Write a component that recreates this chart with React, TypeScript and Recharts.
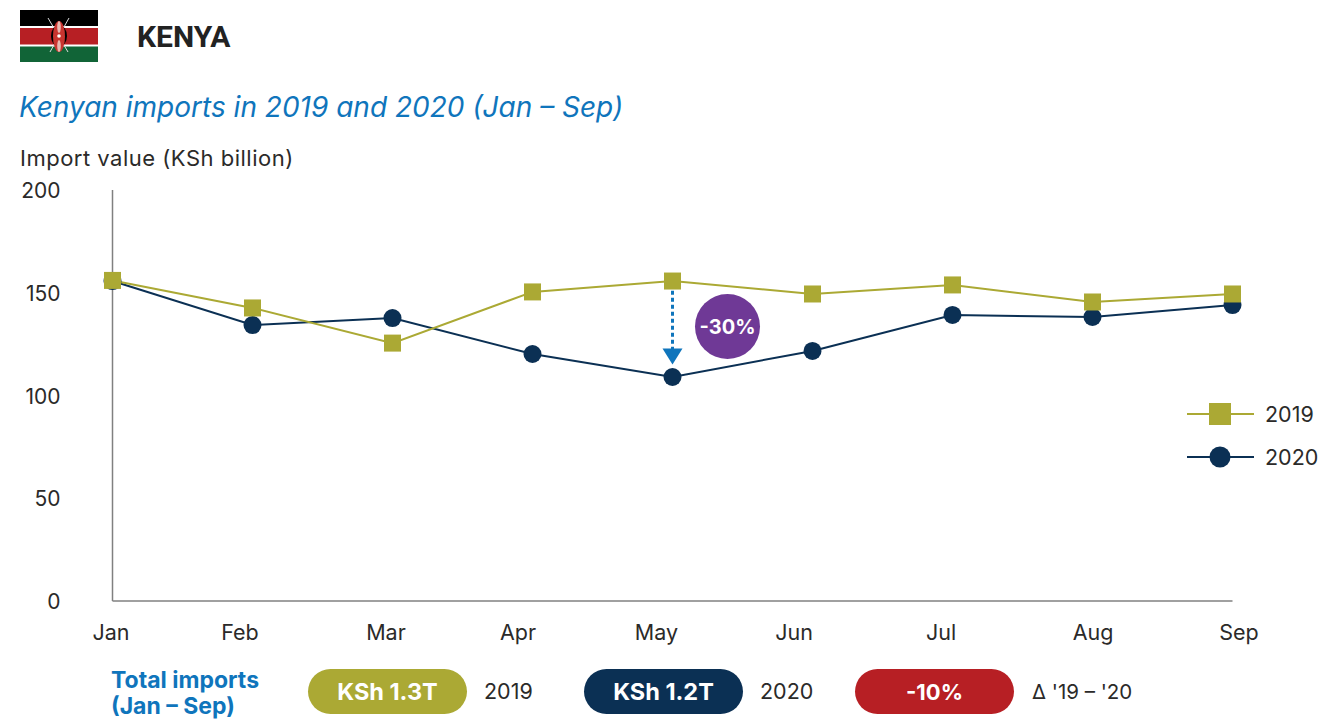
import { Legend, Line, LineChart, ReferenceDot, ReferenceLine, XAxis, YAxis } from "recharts";

const months = ["Jan", "Feb", "Mar", "Apr", "May", "Jun", "Jul", "Aug", "Sep"];
const imports2019 = [156, 142.6, 125.5, 150.4, 155.7, 149.4, 153.8, 145.5, 149.4];
const imports2020 = [155.7, 134.3, 137.7, 120.2, 109, 121.7, 139.2, 138.2, 144];
const yTicks = [0, 50, 100, 150, 200];

const OLIVE = "#ABA934";
const NAVY = "#0B3054";
const BLUE = "#0F75BC";
const PURPLE = "#6F3996";
const RED = "#B71F24";
const INK = "#2B2A29";
const FONT = "Inter, sans-serif";

// the month labels sit off their points in the original
const monthShift: Record<string, number> = { Jan: -1.5, Feb: -12.5, Mar: -6.5, Apr: -14.5, May: -16, Jun: -18.5, Jul: -11.5, Aug: 0.5, Sep: 6.5 };

const data = months.map((month, i) => ({ month, y2019: imports2019[i], y2020: imports2020[i] }));

function SquareDot({ cx, cy }: any) {
  return <rect x={cx - 8.5} y={cy - 8.5} width={17} height={17} fill={OLIVE} />;
}

function RoundDot({ cx, cy }: any) {
  return <circle cx={cx} cy={cy} r={9} fill={NAVY} />;
}

function MonthTick({ x, payload }: any) {
  return (
    <text x={x + monthShift[payload.value]} y={640} textAnchor="middle" fontSize={21.5} fill={INK} fontFamily={FONT}>
      {payload.value}
    </text>
  );
}

function ValueTick({ y, payload }: any) {
  return (
    <text x={60.5} y={y + 8} textAnchor="end" fontSize={21} fill={INK} fontFamily={FONT}>
      {payload.value}
    </text>
  );
}

function ArrowHead({ cx, cy }: any) {
  return <polygon points={`${cx - 10},${cy - 8} ${cx + 10},${cy - 8} ${cx},${cy + 8}`} fill={BLUE} />;
}

function SeriesKey() {
  return (
    <svg width={135} height={70} style={{ display: "block" }}>
      <line x1={0} x2={67} y1={14} y2={14} stroke={OLIVE} strokeWidth={2} />
      <rect x={22} y={3} width={22} height={22} fill={OLIVE} />
      <text x={78} y={21.5} fontSize={21.5} fill={INK} fontFamily={FONT}>2019</text>
      <line x1={0} x2={67} y1={57} y2={57} stroke={NAVY} strokeWidth={2} />
      <circle cx={33} cy={57} r={10.5} fill={NAVY} />
      <text x={78} y={64.5} fontSize={21.5} fill={INK} fontFamily={FONT}>2020</text>
    </svg>
  );
}

function KenyaFlag() {
  return (
    <svg width={78} height={52} style={{ position: "absolute", left: 20, top: 10 }}>
      <rect width={78} height={16} fill="#000" />
      <rect y={16} width={78} height={21} fill="#fff" />
      <rect y={18} width={78} height={16.5} fill="#B71F24" />
      <rect y={36.5} width={78} height={15.5} fill="#116437" />
      <line x1={28} y1={8} x2={48} y2={42} stroke="#ddd" strokeWidth={1} />
      <line x1={49} y1={8} x2={30} y2={42} stroke="#ddd" strokeWidth={1} />
      <ellipse cx={39} cy={26} rx={8} ry={11} fill="#000" />
      <ellipse cx={39} cy={26.5} rx={6} ry={15.5} fill="#C9342F" />
      <ellipse cx={39} cy={17} rx={1.8} ry={6} fill="#E8B8B0" />
      <ellipse cx={39} cy={36} rx={1.8} ry={6} fill="#E8B8B0" />
      <circle cx={39} cy={26} r={1.8} fill="#fff" />
    </svg>
  );
}

function Caption({ left, top, size = 21.5, color = INK, weight = 400, children, style }: any) {
  return (
    <div style={{ position: "absolute", left, top, fontSize: size, color, fontWeight: weight, fontFamily: FONT, lineHeight: 1.2, whiteSpace: "nowrap", ...style }}>
      {children}
    </div>
  );
}

function Pill({ left, color, size = 23.5, children }: any) {
  return (
    <div
      style={{
        position: "absolute",
        left,
        top: 669,
        width: 159,
        height: 45,
        borderRadius: 23,
        background: color,
        color: "#fff",
        fontFamily: FONT,
        fontWeight: 700,
        fontSize: size,
        display: "flex",
        alignItems: "center",
        justifyContent: "center",
      }}
    >
      {children}
    </div>
  );
}

export default function App() {
  return (
    <div style={{ position: "absolute", left: 0, top: 0, width: 1326, height: 720, background: "#fff", overflow: "hidden" }}>
      <LineChart width={1326} height={720} data={data} margin={{ top: 190, right: 93.5, bottom: 0, left: 0 }}>
        <XAxis
          dataKey="month"
          height={119}
          interval={0}
          tickLine={false}
          axisLine={{ stroke: "#808080", strokeWidth: 1.5 }}
          tick={<MonthTick />}
        />
        <YAxis
          width={112.5}
          domain={[0, 200]}
          ticks={yTicks}
          tickLine={false}
          axisLine={{ stroke: "#808080", strokeWidth: 1.5 }}
          tick={<ValueTick />}
        />
        <Line dataKey="y2020" stroke={NAVY} strokeWidth={2} dot={<RoundDot />} isAnimationActive={false} />
        <Line dataKey="y2019" stroke={OLIVE} strokeWidth={2} dot={<SquareDot />} isAnimationActive={false} />
        <ReferenceLine
          segment={[
            { x: "May", y: 151 },
            { x: "May", y: 122 },
          ]}
          stroke={BLUE}
          strokeWidth={3}
          strokeDasharray="4 3"
        />
        <ReferenceDot x="May" y={119} shape={<ArrowHead />} />
        <Legend
          layout="horizontal"
          align="center"
          verticalAlign="middle"
          content={<SeriesKey />}
          wrapperStyle={{ left: 1187, top: 400, width: 135 }}
        />
      </LineChart>

      <KenyaFlag />
      <Caption left={137} top={19} size={30} weight={700} style={{ fontFamily: "Roboto, sans-serif", color: "#222" }}>KENYA</Caption>
      <Caption left={19} top={91} size={28} color={BLUE} style={{ fontStyle: "italic" }}>
        Kenyan imports in 2019 and 2020 (Jan – Sep)
      </Caption>
      <Caption left={20} top={145} size={22} style={{ letterSpacing: 0.5 }}>Import value (KSh billion)</Caption>

      <div
        style={{
          position: "absolute",
          left: 695,
          top: 294,
          width: 65,
          height: 65,
          borderRadius: "50%",
          background: PURPLE,
          color: "#fff",
          fontFamily: FONT,
          fontWeight: 700,
          fontSize: 20,
          display: "flex",
          alignItems: "center",
          justifyContent: "center",
        }}
      >
        -30%
      </div>

      <Caption left={111} top={667} size={23} color={BLUE} weight={700}>Total imports</Caption>
      <Caption left={111} top={693} size={23} color={BLUE} weight={700}>(Jan – Sep)</Caption>
      <Pill left={308} color={OLIVE}>KSh 1.3T</Pill>
      <Caption left={484} top={679}>2019</Caption>
      <Pill left={584} color={NAVY}>KSh 1.2T</Pill>
      <Caption left={760} top={679}>2020</Caption>
      <Pill left={855} color={RED} size={22}>-10%</Pill>
      <Caption left={1032} top={680} size={20.5}>Δ '19 – '20</Caption>
    </div>
  );
}
